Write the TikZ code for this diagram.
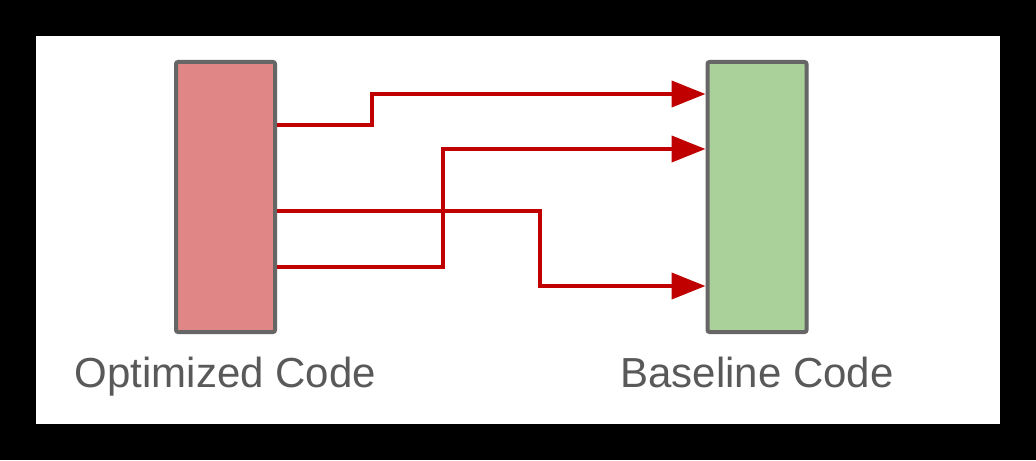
\documentclass[tikz,border=0pt]{standalone}
\usepackage{fontspec}
\setmainfont{Liberation Sans}
\usepackage{xcolor}
\usetikzlibrary{arrows.meta}
\definecolor{codered}{HTML}{E18686}
\definecolor{codegreen}{HTML}{AAD19A}
\definecolor{edgegray}{HTML}{666666}
\definecolor{flowred}{HTML}{C00000}
\definecolor{labelgray}{HTML}{595959}
\tikzset{
	codebox/.style={draw=edgegray,line width=2pt,rounded corners=1pt,minimum width=49.5pt,minimum height=135pt,inner sep=0pt},
	flow/.style={draw=flowred,line width=2pt,-{Triangle[length=17pt,width=13pt]}},
	codelabel/.style={text=labelgray,font=\fontsize{21}{24}\selectfont,anchor=base}
}

\begin{document}
\begin{tikzpicture}[x=0.5pt,y=-0.5pt]
					\fill[black] (0,0) rectangle (1036,460);
					\fill[white] (36,36) rectangle (1000,424);
					\node[codebox,fill=codered] (opt) at (225.5,197) {};
					\node[codebox,fill=codegreen] (base) at (757,197) {};
					\draw[flow] (opt.east |- 0,125) -| (372,94) -- (base.west |- 0,94);
					\draw[flow] (opt.east |- 0,267) -| (443,149) -- (base.west |- 0,149);
					\draw[flow] (opt.east |- 0,211) -| (540,286) -- (base.west |- 0,286);
					\node[codelabel] (optlabel) at (opt.center |- 0,387) {Optimized Code};
					\node[codelabel] (baselabel) at (base.center |- 0,387) {Baseline Code};
				\end{tikzpicture}
\end{document}
